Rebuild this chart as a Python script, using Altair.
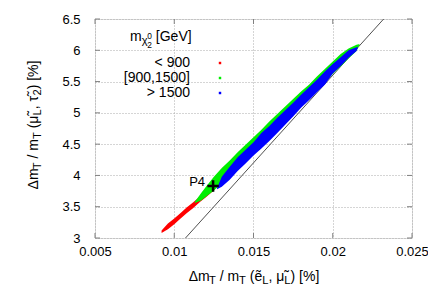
import altair as alt
import pandas as pd

# ---------------- data ----------------
# red band (m_chi < 900): x, upper y, lower y
red_x = [0.0092, 0.0096, 0.0100, 0.0104, 0.0108, 0.0112, 0.0116, 0.0120, 0.0124, 0.0126]
red_top = [3.12, 3.23, 3.31, 3.40, 3.49, 3.57, 3.66, 3.75, 3.86, 3.92]
red_bot = [3.08, 3.14, 3.22, 3.31, 3.40, 3.48, 3.57, 3.65, 3.74, 3.80]

# green band ([900,1500])
green_x = [0.0113, 0.0117, 0.0120, 0.0125, 0.0130, 0.0135, 0.0140, 0.0145, 0.0150,
           0.0155, 0.0160, 0.0165, 0.0170, 0.0175, 0.0180, 0.0185, 0.0190, 0.0195,
           0.0200, 0.0205, 0.0210, 0.0215, 0.0217]
green_top = [3.58, 3.72, 3.82, 3.98, 4.12, 4.24, 4.37, 4.49, 4.61, 4.73, 4.86, 4.98,
             5.10, 5.22, 5.34, 5.45, 5.58, 5.70, 5.82, 5.94, 6.03, 6.09, 6.10]
green_bot = [3.56, 3.60, 3.66, 3.76, 3.87, 4.00, 4.11, 4.22, 4.34, 4.46, 4.60, 4.73,
             4.87, 4.99, 5.11, 5.23, 5.35, 5.48, 5.62, 5.74, 5.87, 5.99, 6.10]

# blue band (> 1500)
blue_x = [0.0127, 0.0130, 0.0135, 0.0140, 0.0145, 0.0150, 0.0155, 0.0160, 0.0165,
          0.0170, 0.0175, 0.0180, 0.0185, 0.0190, 0.0195, 0.0200, 0.0205, 0.0210,
          0.0215, 0.0216]
blue_top = [3.80, 3.98, 4.14, 4.29, 4.41, 4.53, 4.68, 4.79, 4.92, 5.04, 5.16, 5.29,
            5.41, 5.53, 5.66, 5.78, 5.89, 6.00, 6.05, 6.05]
blue_bot = [3.78, 3.82, 3.93, 4.07, 4.19, 4.32, 4.43, 4.55, 4.68, 4.81, 4.94, 5.08,
            5.20, 5.33, 5.45, 5.63, 5.75, 5.88, 5.99, 6.05]

diag_x = [0.01071, 0.02321]
diag_y = [3.0, 6.5]

p4_x = [0.01245]
p4_y = [3.83]

x_ticks = [0.005, 0.01, 0.015, 0.02, 0.025]
y_ticks = [3, 3.5, 4, 4.5, 5, 5.5, 6, 6.5]

legend_labels = ["< 900", "[900,1500]", "> 1500"]
legend_colors = ["#ff0000", "#00ee00", "#0000ff"]

# ---------------- styling ----------------
FONT = "Liberation Sans"
FS = 13
FT = 14
W, H = 317, 219
FRAME = "#808080"

XS = alt.Scale(domain=[0.005, 0.025], nice=False, zero=False)
YS = alt.Scale(domain=[3, 6.5], nice=False, zero=False)
XA = alt.Axis(values=x_ticks, format=".3~f", title=None, grid=True, ticks=False,
              domain=False, labelPadding=7, labelFontSize=FS, labelFont=FONT,
              labelColor="black", labelFlush=False, labelOverlap=False,
              gridColor="#aaaaaa", gridDash=[1, 2])
YA = alt.Axis(values=y_ticks, format="~g", title=None, grid=True, ticks=False,
              domain=False, labelPadding=15, labelFontSize=FS, labelFont=FONT,
              labelColor="black", labelFlush=False, labelOverlap=False,
              gridColor="#aaaaaa", gridDash=[1, 2])


def band(xs, top, bot, color):
    df = pd.DataFrame({"x": xs, "top": top, "bot": bot})
    return alt.Chart(df).mark_area(color=color, opacity=1, interpolate="linear").encode(
        x=alt.X("x:Q", scale=XS, axis=XA),
        y=alt.Y("top:Q", scale=YS, axis=YA, stack=None),
        y2="bot:Q",
    )


layers = []

# inward ticks (gnuplot style, mirrored)
xt = pd.DataFrame({"x": x_ticks})
yt = pd.DataFrame({"y": y_ticks})
layers.append(alt.Chart(xt).mark_rule(color=FRAME, strokeWidth=1).encode(
    x=alt.X("x:Q", scale=XS, axis=XA), y=alt.value(H - 5), y2=alt.value(H)))
layers.append(alt.Chart(xt).mark_rule(color=FRAME, strokeWidth=1).encode(
    x=alt.X("x:Q", scale=XS, axis=XA), y=alt.value(0), y2=alt.value(5)))
layers.append(alt.Chart(yt).mark_rule(color=FRAME, strokeWidth=1).encode(
    y=alt.Y("y:Q", scale=YS, axis=YA), x=alt.value(0), x2=alt.value(5)))
layers.append(alt.Chart(yt).mark_rule(color=FRAME, strokeWidth=1).encode(
    y=alt.Y("y:Q", scale=YS, axis=YA), x=alt.value(W - 5), x2=alt.value(W)))

# diagonal reference line
layers.append(alt.Chart(pd.DataFrame({"x": diag_x, "y": diag_y})).mark_line(
    color="#222222", strokeWidth=0.8).encode(
    x=alt.X("x:Q", scale=XS, axis=XA), y=alt.Y("y:Q", scale=YS, axis=YA)))

# scatter bands
layers.append(band(red_x, red_top, red_bot, legend_colors[0]))
layers.append(band(green_x, green_top, green_bot, legend_colors[1]))
layers.append(band(blue_x, blue_top, blue_bot, legend_colors[2]))

# P4 marker
p4 = pd.DataFrame({"x": p4_x, "y": p4_y, "label": ["P4"]})
layers.append(alt.Chart(p4).mark_point(
    shape="M-1,0L1,0M0,-1L0,1", size=130, strokeWidth=2.5, color="black",
    filled=False, opacity=1
).encode(x=alt.X("x:Q", scale=XS, axis=XA), y=alt.Y("y:Q", scale=YS, axis=YA)))
layers.append(alt.Chart(p4).mark_text(
    align="right", baseline="middle", dx=-8, dy=-4, fontSize=FS, font=FONT, color="black"
).encode(x=alt.X("x:Q", scale=XS, axis=XA), y=alt.Y("y:Q", scale=YS, axis=YA),
         text="label:N"))

# ---------------- rich text helpers ----------------
WID = {'Δ': 612, 'm': 833, 'T': 611, ' ': 278, '/': 278, '(': 333, ')': 333,
       'e': 556, 'ẽ': 556, 'μ': 576, 'τ': 430, 'L': 556, ',': 278, '[': 278,
       ']': 278, '%': 889, 'χ': 500, 'G': 778, 'V': 667, '\u0303': 0}


def tw(s, size):
    return sum(WID.get(c, 556) for c in s) / 1000.0 * size


ONE = pd.DataFrame({"a": [0]})


def rich(parts, x, y, center=True, angle=0):
    total = sum(tw(t, s) for t, s, dy, adv in parts if adv)
    pos = -total / 2 if center else 0
    out = []
    for t, s, dy, adv in parts:
        stripped = t.lstrip(" ")
        lead = tw(t[: len(t) - len(stripped)], s)
        kw = dict(text=stripped, fontSize=s, font=FONT, color="black", align="left",
                  baseline="alphabetic", dx=pos + lead, dy=dy)
        if angle:
            kw["angle"] = angle
        out.append(alt.Chart(ONE).mark_text(**kw).encode(
            x=alt.value(x), y=alt.value(y)))
        if adv:
            pos += tw(t, s)
    return out


SUB = FT * 0.8
xtitle = [("Δm", FT, 0, True), ("T", SUB, 3, True), (" / m", FT, 0, True),
          ("T", SUB, 3, True), (" (ẽ", FT, 0, True), ("L", SUB, 3, True),
          (", μ\u0303", FT, 0, True), ("L", SUB, 3, True), (") [%]", FT, 0, True)]
ytitle = [("Δm", FT, 0, True), ("T", SUB, 3, True), (" / m", FT, 0, True),
          ("T", SUB, 3, True), (" (μ\u0303", FT, 0, True), ("L", SUB, 3, True),
          (", τ\u0303", FT, 0, True), ("2", SUB, 3, True), (") [%]", FT, 0, True)]
layers += rich(xtitle, 159, 262)
layers += rich(ytitle, -57, 106, angle=270)

# legend title m_{chi^0_2} [GeV]
ltitle = [("m", FT, 0, True), ("χ", SUB, 3, True), ("0", FT * 0.6, -2, False),
          ("2", FT * 0.6, 7, True), (" [GeV]", FT, 0, True)]
layers += rich(ltitle, 35, 22, center=False)

leg = pd.DataFrame({"label": legend_labels, "color": legend_colors,
                    "ypix": [44, 59, 74]})
layers.append(alt.Chart(leg).mark_text(
    align="right", baseline="middle", fontSize=FT, font=FONT, color="black").encode(
    x=alt.value(95), y=alt.Y("ypix:Q", scale=None), text="label:N"))
layers.append(alt.Chart(leg).mark_square(size=6, opacity=1).encode(
    x=alt.value(125), y=alt.Y("ypix:Q", scale=None),
    color=alt.Color("color:N", scale=None)))

chart = alt.layer(*layers).properties(
    width=W, height=H,
    padding={"left": 87, "top": 11, "right": 16, "bottom": 59},
    autosize=alt.AutoSizeParams(type="none"),
).configure_view(stroke=FRAME, strokeWidth=1).configure(background="white")

chart.save("out.html", embed_options={"renderer": "svg", "actions": False})
